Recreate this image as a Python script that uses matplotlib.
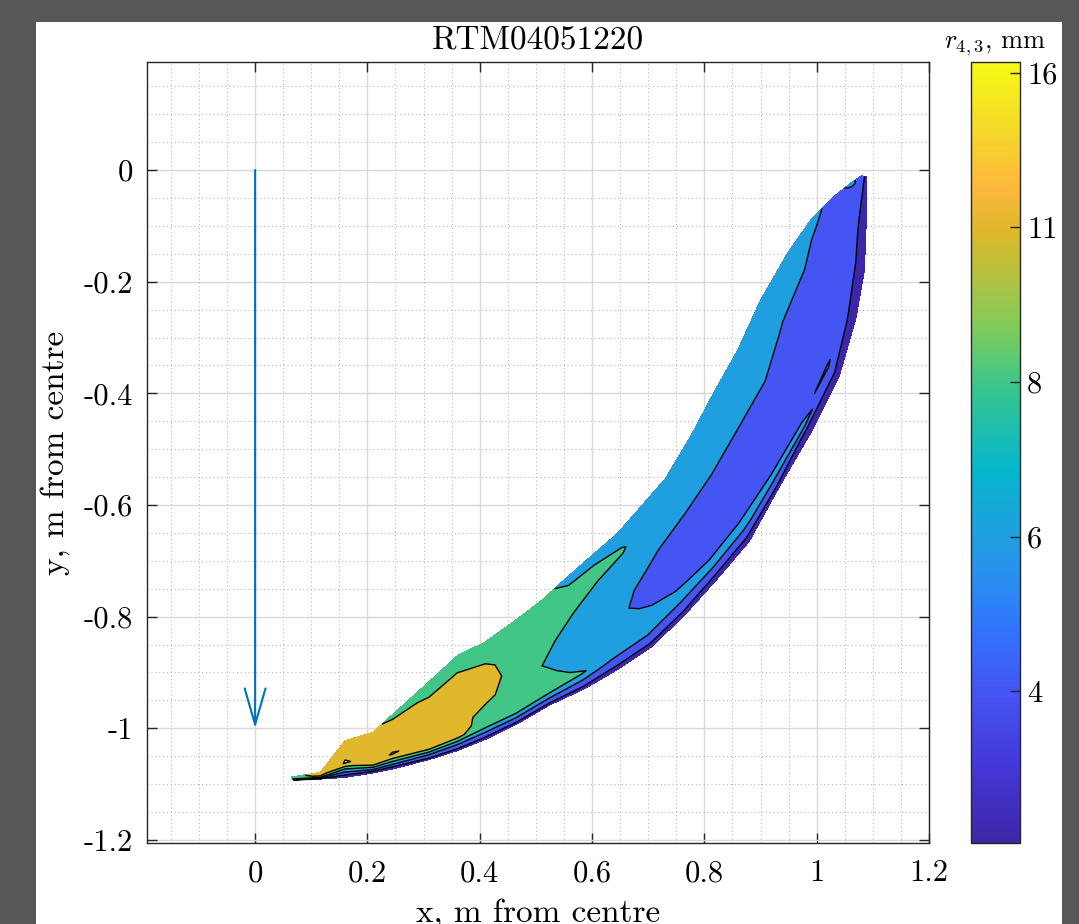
import numpy as np
import matplotlib
matplotlib.use("Agg")
import matplotlib.pyplot as plt
from matplotlib.colors import LinearSegmentedColormap, Normalize
from matplotlib.patches import Rectangle, FancyArrowPatch
from matplotlib.ticker import MultipleLocator
import matplotlib.cm as cm

plt.rcParams['font.family'] = ['cmr10', 'DejaVu Serif']
plt.rcParams['mathtext.fontset'] = 'cm'
plt.rcParams['axes.unicode_minus'] = False
plt.rcParams['axes.formatter.use_mathtext'] = True

# --- band geometry: one transverse station per row (upper-left edge -> lower-right edge), metres
inner_x = [0.064, 0.116, 0.160, 0.210, 0.245, 0.310, 0.360, 0.410, 0.460, 0.510, 0.556, 0.600,
           0.645, 0.686, 0.731, 0.775, 0.816, 0.859, 0.900, 0.948, 0.989, 1.030, 1.062, 1.080]
inner_y = [-1.087, -1.079, -1.022, -1.007, -0.975, -0.916, -0.870, -0.845, -0.809, -0.771, -0.729, -0.690,
           -0.651, -0.604, -0.552, -0.478, -0.400, -0.323, -0.233, -0.149, -0.090, -0.048, -0.022, -0.010]
outer_x = [0.068, 0.116, 0.160, 0.210, 0.245, 0.310, 0.360, 0.410, 0.465, 0.525, 0.585, 0.645,
           0.705, 0.765, 0.825, 0.880, 0.932, 0.990, 1.040, 1.070, 1.085, 1.088, 1.088, 1.088]
outer_y = [-1.093, -1.091, -1.088, -1.080, -1.073, -1.056, -1.040, -1.020, -0.993, -0.958, -0.930, -0.895,
           -0.855, -0.797, -0.730, -0.665, -0.570, -0.470, -0.370, -0.265, -0.180, -0.100, -0.040, -0.012]
across = [0, 0.15, 0.30, 0.45, 0.60, 0.72, 0.80, 0.86, 0.91, 0.95, 1.0]

# log2 of r43 (mm) at each station / across position
log2_r43 = [
    [3.30, 3.30, 3.20, 3.10, 3.00, 2.90, 2.80, 2.60, 2.40, 2.10, 1.80],
    [3.70, 3.70, 3.70, 3.65, 3.30, 3.05, 2.80, 2.50, 2.25, 1.95, 1.80],
    [3.75, 3.80, 3.85, 3.95, 4.05, 3.40, 2.75, 2.45, 2.15, 1.90, 1.75],
    [3.75, 3.75, 3.75, 3.80, 3.80, 3.75, 3.55, 3.00, 2.55, 2.05, 1.75],
    [3.20, 3.70, 3.70, 3.75, 3.85, 4.05, 3.55, 3.00, 2.55, 2.05, 1.75],
    [3.20, 3.40, 3.70, 3.75, 3.75, 3.75, 3.70, 3.60, 2.90, 2.30, 1.80],
    [3.20, 3.45, 3.70, 3.75, 3.75, 3.75, 3.75, 3.60, 2.90, 2.30, 1.80],
    [3.15, 3.40, 3.60, 3.75, 3.60, 3.30, 3.25, 3.20, 2.70, 2.20, 1.80],
    [3.25, 3.30, 3.30, 3.30, 3.30, 3.30, 3.30, 3.35, 2.80, 2.30, 1.80],
    [3.20, 3.25, 3.20, 3.10, 2.95, 3.10, 3.20, 3.25, 2.80, 2.30, 1.80],
    [2.80, 3.20, 3.05, 2.80, 2.75, 2.75, 2.90, 3.05, 2.60, 2.20, 1.80],
    [2.80, 3.15, 2.85, 2.75, 2.75, 2.75, 2.75, 2.70, 2.40, 2.10, 1.80],
    [2.75, 3.05, 2.70, 2.55, 2.40, 2.60, 2.70, 2.70, 2.40, 2.10, 1.80],
    [2.75, 2.70, 2.60, 2.45, 2.30, 2.30, 2.55, 2.65, 2.40, 2.10, 1.80],
    [2.75, 2.70, 2.60, 2.35, 2.30, 2.30, 2.40, 2.65, 2.45, 2.05, 1.80],
    [2.75, 2.70, 2.60, 2.35, 2.30, 2.30, 2.40, 2.65, 2.45, 2.05, 1.80],
    [2.75, 2.70, 2.60, 2.40, 2.30, 2.25, 2.30, 2.45, 2.65, 2.20, 1.80],
    [2.75, 2.70, 2.60, 2.40, 2.30, 2.25, 2.30, 2.45, 2.60, 1.95, 1.80],
    [2.70, 2.65, 2.48, 2.35, 2.30, 2.25, 2.30, 2.55, 2.25, 1.95, 1.80],
    [2.70, 2.60, 2.45, 2.30, 2.25, 2.25, 2.25, 2.10, 1.95, 1.90, 1.80],
    [2.65, 2.45, 2.30, 2.25, 2.25, 2.25, 2.10, 1.95, 1.90, 1.85, 1.80],
    [2.35, 2.30, 2.25, 2.25, 2.25, 2.15, 1.95, 1.90, 1.85, 1.85, 1.80],
    [2.60, 2.55, 2.40, 2.30, 2.25, 2.10, 1.95, 1.90, 1.90, 1.85, 1.85],
    [2.30, 2.30, 2.20, 2.15, 2.05, 1.95, 1.90, 1.90, 1.85, 1.85, 1.80],
]

levels = [1.5, 2.0, 2.5, 3.0, 3.5, 4.0, 4.5]
cbar_ticks = [2.0, 2.5, 3.0, 3.5, 4.0]
cbar_ticklabels = ['4', '6', '8', '11', '16']
clim = (1.51, 4.035)

# parula-like colormap
parula_pos = [0.00, 0.10, 0.19, 0.27, 0.32, 0.39, 0.48, 0.58, 0.66, 0.78, 0.84, 0.92, 1.00]
parula_rgb = [(0.24, 0.15, 0.66), (0.27, 0.22, 0.85), (0.27, 0.33, 0.95), (0.20, 0.45, 0.99),
              (0.17, 0.53, 0.96), (0.13, 0.62, 0.88), (0.02, 0.72, 0.80), (0.21, 0.77, 0.56),
              (0.50, 0.80, 0.36), (0.86, 0.72, 0.16), (0.99, 0.72, 0.24), (0.96, 0.86, 0.16),
              (0.97, 0.98, 0.08)]
parula = LinearSegmentedColormap.from_list('parula', list(zip(parula_pos, parula_rgb)))
norm = Normalize(vmin=clim[0], vmax=clim[1])

ix, iy = np.array(inner_x), np.array(inner_y)
ox, oy = np.array(outer_x), np.array(outer_y)
f = np.array(across)
X = ix[:, None] + (ox - ix)[:, None] * f[None, :]
Y = iy[:, None] + (oy - iy)[:, None] * f[None, :]
Z = np.array(log2_r43)

fig = plt.figure(figsize=(10.79, 9.24), dpi=100, facecolor='#575757')
fig.patches.append(Rectangle((36 / 1079, 0), (1062 - 36) / 1079, (924 - 22) / 924,
                             transform=fig.transFigure, facecolor='white', edgecolor='none', zorder=-1))

ax = fig.add_axes([147 / 1079, 81 / 924, 782 / 1079, 781 / 924])
fill_colors = [parula(norm(l)) for l in levels[:-1]]
ax.contourf(X, Y, Z, levels=levels, colors=fill_colors, zorder=2)
ax.contour(X, Y, Z, levels=levels[1:-1], colors='k', linewidths=1.0, zorder=3)

# trajectory arrow
arr = FancyArrowPatch((0, 0), (0, -1), arrowstyle='->,head_length=2.6,head_width=0.75',
                      mutation_scale=10, color='#0072BD', lw=1.5, zorder=4, shrinkA=0, shrinkB=0)
ax.add_patch(arr)

ax.set_xlim(-0.1925, 1.2)
ax.set_ylim(-1.2054, 0.1935)
xt = [0, 0.2, 0.4, 0.6, 0.8, 1.0, 1.2]
yt = [0, -0.2, -0.4, -0.6, -0.8, -1.0, -1.2]
ax.set_xticks(xt)
ax.set_xticklabels(['0', '0.2', '0.4', '0.6', '0.8', '1', '1.2'])
ax.set_yticks(yt)
ax.set_yticklabels(['0', '-0.2', '-0.4', '-0.6', '-0.8', '-1', '-1.2'])
ax.xaxis.set_minor_locator(MultipleLocator(0.05))
ax.yaxis.set_minor_locator(MultipleLocator(0.05))
ax.tick_params(which='major', direction='in', length=7, width=1, top=True, right=True,
               labelsize=22, color='#262626')
ax.tick_params(axis='x', which='major', pad=12)
ax.tick_params(axis='y', which='major', pad=10)
ax.tick_params(which='minor', length=0)
ax.grid(which='major', color='#d9d9d9', lw=1.0, zorder=0)
ax.grid(which='minor', color='#b8b8b8', lw=0.8, ls=(0, (1, 2.5)), zorder=0)
ax.set_axisbelow(True)
for s in ax.spines.values():
    s.set_color('#262626')
    s.set_linewidth(1.0)

ax.set_title('RTM04051220', fontsize=24, pad=10)
ax.set_xlabel('x, m from centre', fontsize=24, labelpad=8)
ax.set_ylabel('y, m from centre', fontsize=24, labelpad=10)

cax = fig.add_axes([971 / 1079, 81 / 924, 49 / 1079, 781 / 924])
sm = cm.ScalarMappable(norm=norm, cmap=parula)
cb = fig.colorbar(sm, cax=cax)
cb.set_ticks(cbar_ticks)
cb.set_ticklabels(cbar_ticklabels)
cb.ax.tick_params(direction='in', length=7, width=1, labelsize=22, color='#262626', pad=5)
cb.outline.set_edgecolor('#262626')
cb.outline.set_linewidth(1.0)
cax.set_title('$r_{4,3}$, mm', fontsize=19, pad=10)

fig.savefig('out.png', dpi=100, facecolor=fig.get_facecolor())
